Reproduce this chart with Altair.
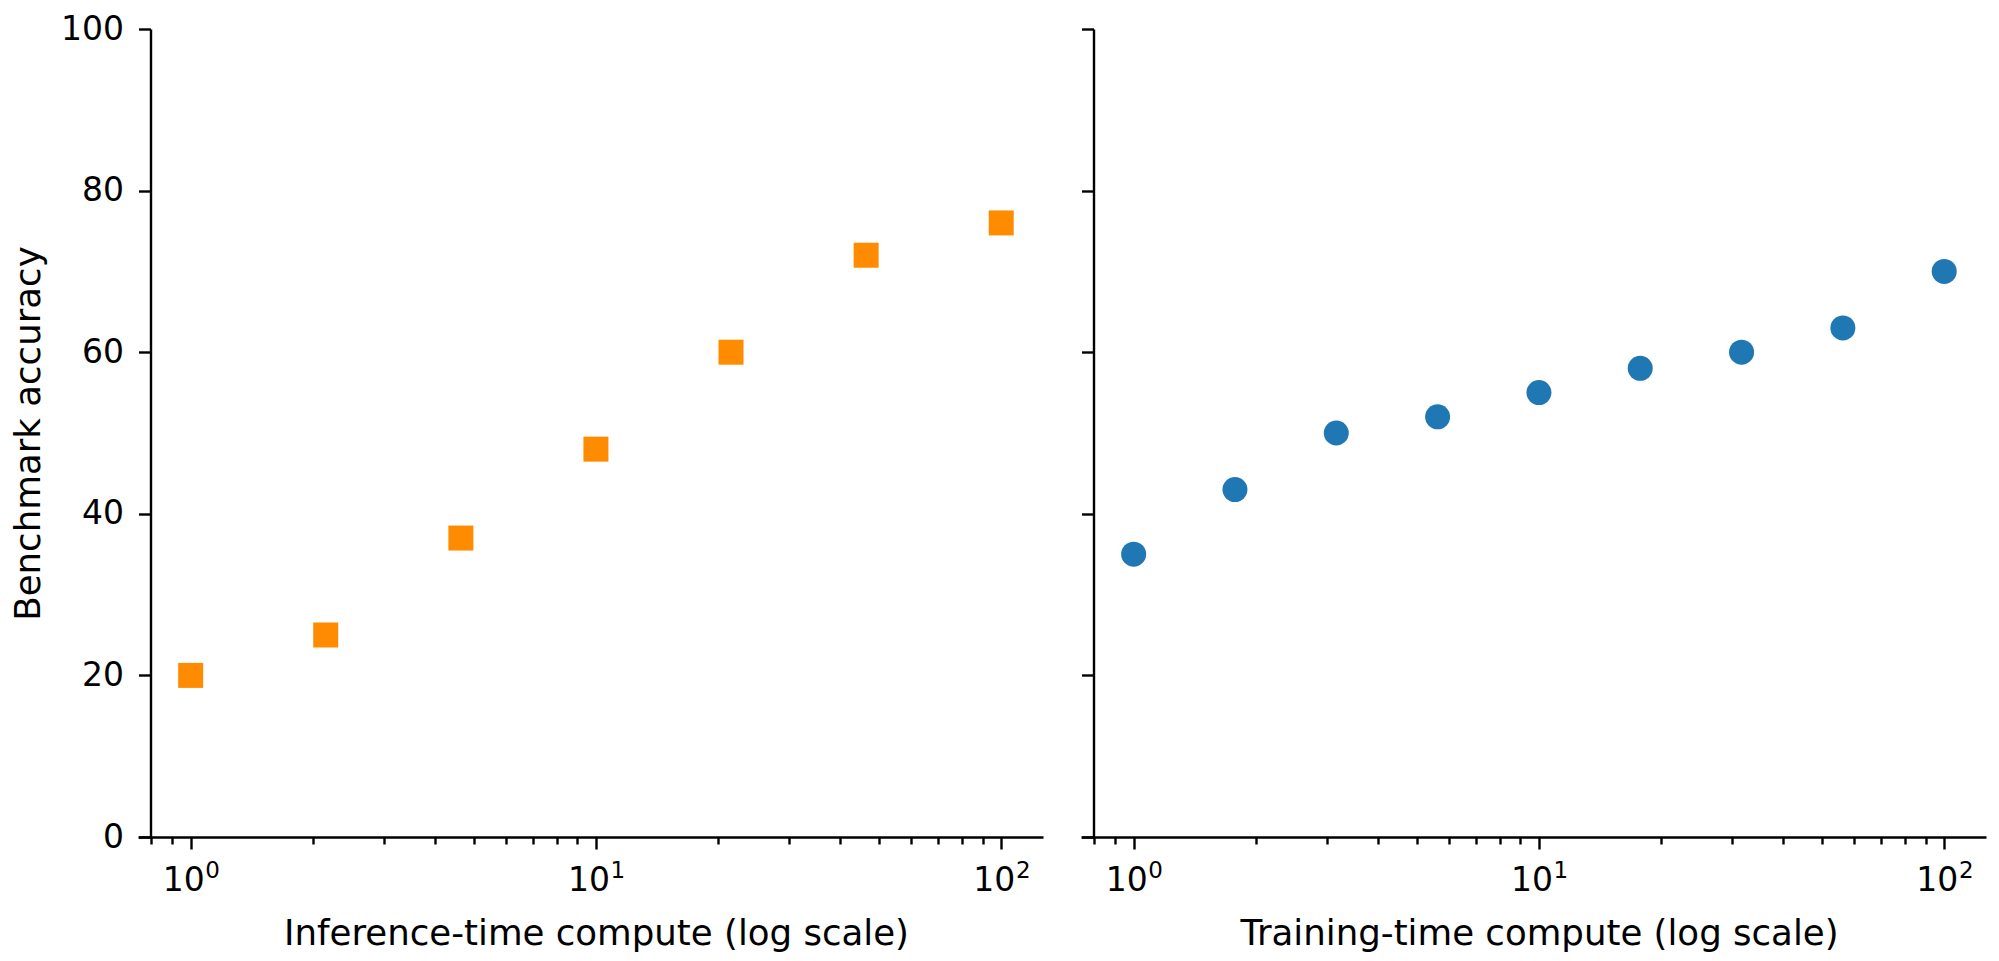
import altair as alt
import pandas as pd

# ---- data ----
inf_x = [1.0, 2.154, 4.642, 10.0, 21.54, 46.42, 100.0]
inf_y = [20, 25, 37, 48, 60, 72, 76]
train_x = [1.0, 1.778, 3.162, 5.623, 10.0, 17.78, 31.62, 56.23, 100.0]
train_y = [35, 43, 50, 52, 55, 58, 60, 63, 70]

major_ticks = [1, 10, 100]
major_base = ["10", "10", "10"]
major_exp = ["0", "1", "2"]
minor_ticks = [0.8, 0.9, 2, 3, 4, 5, 6, 7, 8, 9, 20, 30, 40, 50, 60, 70, 80, 90]
y_ticks = [0, 20, 40, 60, 80, 100]

x_titles = ["Inference-time compute (log scale)", "Training-time compute (log scale)"]
y_title = "Benchmark accuracy"

ORANGE = "#ff8c00"
BLUE = "#1f77b4"
FONT = "DejaVu Sans"
FS = 33
TFS = 35.6
SFS = 23
LW = 2.4

x_domain = [0.7414, 126.8]


def make_expr(labels):
    return " : ".join(
        f"datum.value == {v} ? '{l}'" for v, l in zip(major_ticks, labels)
    ) + " : ''"


base_expr = make_expr(major_base)
exp_expr = make_expr(major_exp)
major_test = " || ".join(f"datum.value == {v}" for v in major_ticks)
all_x_ticks = sorted(major_ticks + minor_ticks)


def x_axis(title):
    return alt.Axis(
        values=all_x_ticks,
        labelExpr=base_expr,
        tickSize={"condition": {"test": major_test, "value": 12}, "value": 7},
        labelOverlap=False,
        labelFlush=False,
        labelOffset=-7.5,
        grid=False,
        title=title,
        titleX=458,
        titleFontSize=TFS,
        titleFontWeight="normal",
        titlePadding=19,
        titleColor="black",
        labelFontSize=FS,
        labelColor="black",
        labelPadding=15,
        domainColor="black",
        domainWidth=LW,
        tickColor="black",
        tickWidth=LW,
        orient="bottom",
    )


def x_sup_axis():
    return alt.Axis(
        values=major_ticks,
        labelExpr=exp_expr,
        ticks=False,
        tickSize=0,
        domain=False,
        grid=False,
        title=None,
        labelOverlap=False,
        labelFlush=False,
        labelOffset=21.5,
        labelFontSize=SFS,
        labelColor="black",
        labelPadding=22.6,
        orient="bottom",
    )


def y_axis(show_labels):
    kw = dict(
        values=y_ticks,
        grid=False,
        offset=-12.5,
        tickSize=12,
        tickColor="black",
        tickWidth=LW,
        domainColor="black",
        domainWidth=LW,
        labelFontSize=FS,
        labelColor="black",
        labelPadding=15,
        labels=show_labels,
        orient="left",
    )
    if show_labels:
        kw.update(
            title=y_title,
            titleFontSize=TFS,
            titleFontWeight="normal",
            titleColor="black",
            titlePadding=14,
        )
    else:
        kw.update(title=None)
    return alt.Axis(**kw)


W, H = 905, 808


def panel(df, shape, color, title, show_y):
    xs = alt.Scale(type="log", domain=x_domain, nice=False)
    ys = alt.Scale(domain=[0, 100], nice=False)
    pts = (
        alt.Chart(df)
        .mark_point(shape=shape, filled=True, size=625, color=color, opacity=1)
        .encode(
            x=alt.X("x:Q", scale=xs, axis=x_axis(title)),
            y=alt.Y("y:Q", scale=ys, axis=y_axis(show_y)),
        )
    )
    sup = (
        alt.Chart(df)
        .mark_point(opacity=0)
        .encode(
            x=alt.X("x:Q", scale=xs, axis=x_sup_axis()),
            y=alt.value(0),
        )
    )
    return (
        alt.layer(pts, sup)
        .resolve_axis(x="independent")
        .properties(width=W, height=H)
    )


left = panel(pd.DataFrame({"x": inf_x, "y": inf_y}), "square", ORANGE, x_titles[0], True)
right = panel(pd.DataFrame({"x": train_x, "y": train_y}), "circle", BLUE, x_titles[1], False)

chart = (
    alt.hconcat(left, right, spacing=38, bounds="flush",
                padding={"left": 3, "top": 5, "right": 5, "bottom": 5})
    .configure(font=FONT)
    .configure_view(stroke=None)
)

chart.save("out.html", embed_options={"renderer": "svg", "actions": False})
